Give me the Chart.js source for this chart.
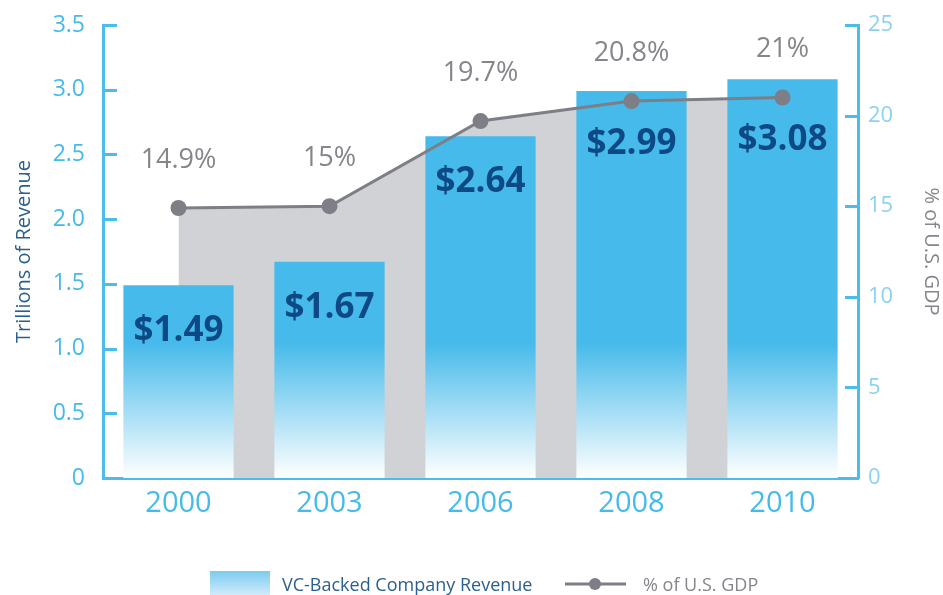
<!DOCTYPE html>
<html>
<head>
<meta charset="utf-8">
<script src="https://cdn.jsdelivr.net/npm/chart.js@4"></script>
<style>
  html, body { margin: 0; padding: 0; background: #fff; }
</style>
</head>
<body>
<canvas id="chart" width="943" height="595"></canvas>
<script>
// data
const years = ['2000', '2003', '2006', '2008', '2010'];
const revenue = [1.49, 1.67, 2.64, 2.99, 3.08];          // trillions
const gdpShare = [14.9, 15, 19.7, 20.8, 21];             // % of U.S. GDP
const revenueLabels = ['$1.49', '$1.67', '$2.64', '$2.99', '$3.08'];
const gdpLabels = ['14.9%', '15%', '19.7%', '20.8%', '21%'];
const leftTickValues = [0, 0.5, 1, 1.5, 2, 2.5, 3, 3.5];
const rightTickValues = [0, 5, 10, 15, 20, 25];

// colours
const BLUE = '#46baea';
const AXIS_BLUE = '#4cbceb';
const NAVY = '#0d4a85';
const GREY_LINE = '#7d7e86';
const GREY_FILL = '#d1d2d5';
const GREY_TEXT = '#85868b';
const TITLE_BLUE = '#2b5f8e';
const FONT = '"Open Sans", sans-serif';

function barFill(context) {
    const area = context.chart.chartArea;
    if (!area) return BLUE;
    const g = context.chart.ctx.createLinearGradient(0, area.bottom, 0, area.bottom - 135);
    g.addColorStop(0, '#ffffff');
    g.addColorStop(1, BLUE);
    return g;
}

// value labels, inward tick marks and the legend
const decorations = {
    id: 'decorations',
    afterDatasetsDraw(chart) {
        const ctx = chart.ctx;
        const bars = chart.getDatasetMeta(0).data;
        const pts = chart.getDatasetMeta(1).data;
        ctx.save();
        ctx.textAlign = 'center';
        ctx.textBaseline = 'middle';

        ctx.font = 'bold 35px ' + FONT;
        ctx.fillStyle = NAVY;
        bars.forEach((b, i) => {
            // keep the label under the line where the line crosses the bar
            const cy = Math.max(b.y + 46, pts[i].y + 43);
            ctx.fillText(revenueLabels[i], b.x, cy);
        });

        ctx.font = '27px ' + FONT;
        ctx.fillStyle = GREY_TEXT;
        pts.forEach((p, i) => ctx.fillText(gdpLabels[i], p.x, p.y - 48));
        ctx.restore();
    },
    afterDraw(chart) {
        const ctx = chart.ctx;
        const area = chart.chartArea;
        const y = chart.scales.y;
        const y2 = chart.scales.y2;
        ctx.save();
        ctx.strokeStyle = AXIS_BLUE;
        ctx.lineWidth = 3;
        ctx.beginPath();
        y.ticks.forEach(t => {
            const py = Math.round(y.getPixelForValue(t.value)) + 0.5;
            ctx.moveTo(area.left, py);
            ctx.lineTo(area.left + 14, py);
        });
        y2.ticks.forEach(t => {
            const py = Math.round(y2.getPixelForValue(t.value)) + 0.5;
            ctx.moveTo(area.right, py);
            ctx.lineTo(area.right - 13, py);
        });
        ctx.stroke();

        // legend
        const top = 571;
        const g = ctx.createLinearGradient(0, top, 0, top + 26);
        g.addColorStop(0, '#7ccbf0');
        g.addColorStop(1, '#d6eefa');
        ctx.fillStyle = g;
        ctx.fillRect(210, top, 60, 26);

        ctx.font = '18px ' + FONT;
        ctx.textBaseline = 'middle';
        ctx.textAlign = 'left';
        ctx.fillStyle = TITLE_BLUE;
        ctx.fillText('VC-Backed Company Revenue', 282, 586);

        ctx.strokeStyle = GREY_LINE;
        ctx.lineWidth = 3;
        ctx.beginPath();
        ctx.moveTo(565, 584);
        ctx.lineTo(626, 584);
        ctx.stroke();
        ctx.fillStyle = GREY_LINE;
        ctx.beginPath();
        ctx.arc(595, 584, 6, 0, Math.PI * 2);
        ctx.fill();

        ctx.fillStyle = GREY_TEXT;
        ctx.fillText('% of U.S. GDP', 643, 586);
        ctx.restore();
    }
};

new Chart(document.getElementById('chart'), {
    data: {
        labels: years,
        datasets: [
            {
                type: 'bar',
                label: 'VC-Backed Company Revenue',
                data: revenue,
                yAxisID: 'y',
                backgroundColor: barFill,
                borderWidth: 0,
                categoryPercentage: 1,
                barPercentage: 0.73,
                order: 1
            },
            {
                type: 'line',
                label: '% of U.S. GDP',
                data: gdpShare,
                yAxisID: 'y2',
                borderColor: GREY_LINE,
                borderWidth: 3,
                backgroundColor: GREY_FILL,
                fill: 'origin',
                tension: 0,
                pointRadius: 8,
                pointHoverRadius: 8,
                pointBackgroundColor: GREY_LINE,
                pointBorderWidth: 0,
                order: 0
            }
        ]
    },
    options: {
        responsive: false,
        animation: false,
        layout: { padding: { top: 25, left: 0, right: 0, bottom: 60 } },
        plugins: {
            legend: { display: false },
            tooltip: { enabled: false },
            filler: { drawTime: 'beforeDatasetsDraw' }
        },
        scales: {
            x: {
                grid: { display: false, drawTicks: false },
                border: { display: true, color: AXIS_BLUE, width: 3 },
                ticks: { color: BLUE, font: { family: FONT, size: 29 }, padding: 8 },
                afterFit(scale) { scale.height = 57; }
            },
            y: {
                position: 'left',
                min: 0,
                max: 3.5,
                afterBuildTicks(scale) { scale.ticks = leftTickValues.map(v => ({ value: v })); },
                grid: { display: false, drawTicks: false },
                border: { display: true, color: AXIS_BLUE, width: 3 },
                ticks: {
                    color: BLUE,
                    font: { family: FONT, size: 23 },
                    padding: 18,
                    callback: v => (v === 0 ? '0' : v.toFixed(1))
                },
                title: {
                    display: true,
                    text: 'Trillions of Revenue',
                    color: TITLE_BLUE,
                    font: { family: FONT, size: 20 },
                    padding: { top: 12, bottom: 0 }
                },
                afterFit(scale) {
                    scale.width = 103;
                    scale.paddingTop = 0;
                    scale.paddingBottom = 0;
                }
            },
            y2: {
                position: 'right',
                min: 0,
                max: 25,
                afterBuildTicks(scale) { scale.ticks = rightTickValues.map(v => ({ value: v })); },
                grid: { display: false, drawTicks: false },
                border: { display: true, color: AXIS_BLUE, width: 3 },
                ticks: {
                    color: '#8dd1f2',
                    font: { family: FONT, size: 22 },
                    padding: 10
                },
                title: {
                    display: true,
                    text: '% of U.S. GDP',
                    color: GREY_TEXT,
                    font: { family: FONT, size: 20 },
                    padding: { top: 0, bottom: 0 }
                },
                afterFit(scale) {
                    scale.width = 85;
                    scale.paddingTop = 0;
                    scale.paddingBottom = 0;
                }
            }
        }
    },
    plugins: [decorations]
});
</script>
</body>
</html>
